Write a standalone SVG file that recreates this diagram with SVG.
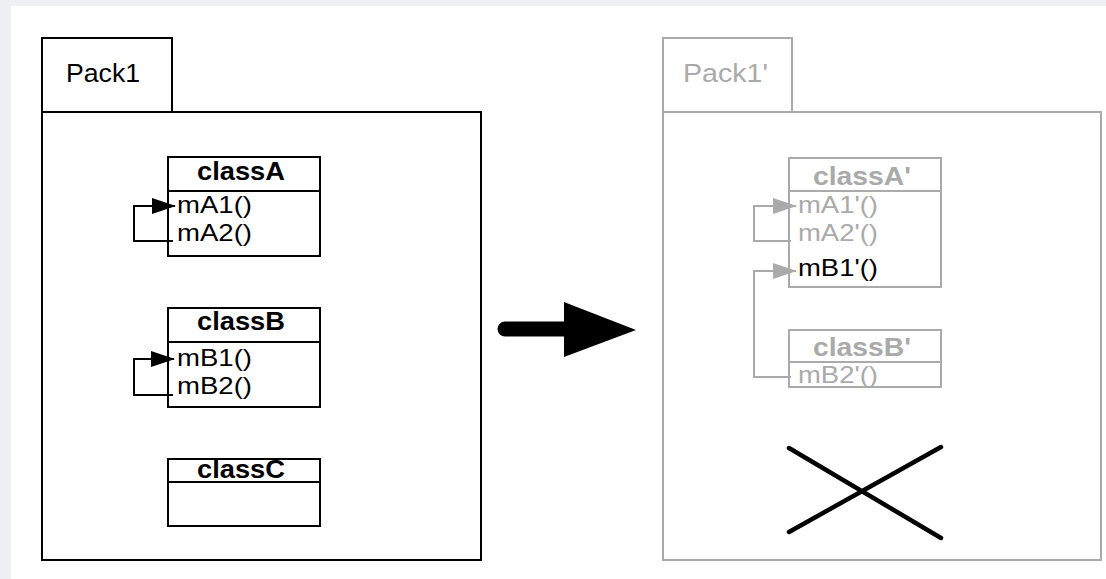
<svg xmlns="http://www.w3.org/2000/svg" width="1106" height="579" viewBox="0 0 1106 579">
  <style>
    .ink { stroke: #000; fill: none; stroke-width: 2; }
    .dim { stroke: #aaaaaa; fill: none; stroke-width: 2; }
    .t { font-family: "Liberation Sans", Arial, sans-serif; fill: #000; }
    .g { fill: #aaaaaa; }
    .title { font-size: 26px; font-weight: bold; text-anchor: middle; }
    .meth { font-size: 24px; }
    .pkg { font-size: 25px; }
  </style>
  <defs>
    <marker id="headBlack" viewBox="0 0 24 16" refX="23" refY="8" markerWidth="24" markerHeight="16" markerUnits="userSpaceOnUse" orient="auto">
      <path d="M0,0 L24,8 L0,16 Z" fill="#000"/>
    </marker>
    <marker id="headGray" viewBox="0 0 24 16" refX="23" refY="8" markerWidth="24" markerHeight="16" markerUnits="userSpaceOnUse" orient="auto">
      <path d="M0,0 L24,8 L0,16 Z" fill="#aaaaaa"/>
    </marker>
  </defs>

  <!-- page backdrop -->
  <rect x="0" y="0" width="1106" height="579" fill="#eef0f3"/>
  <rect x="11" y="6" width="1095" height="573" fill="#ffffff"/>

  <!-- source package -->
  <g id="pack1">
    <rect class="ink" x="42" y="38" width="130" height="74"/>
    <rect class="ink" x="42" y="112" width="439" height="448"/>
    <text class="t pkg" x="66" y="82" textLength="74" lengthAdjust="spacingAndGlyphs">Pack1</text>
  </g>

  <g id="classA">
    <rect class="ink" x="168" y="157" width="152" height="99"/>
    <line class="ink" x1="168" y1="191" x2="320" y2="191"/>
    <text class="t title" x="241" y="180" textLength="88" lengthAdjust="spacingAndGlyphs">classA</text>
    <text class="t meth" x="177" y="213" textLength="75" lengthAdjust="spacingAndGlyphs">mA1()</text>
    <text class="t meth" x="177" y="241" textLength="75" lengthAdjust="spacingAndGlyphs">mA2()</text>
  </g>

  <g id="classB">
    <rect class="ink" x="168" y="308" width="152" height="99"/>
    <line class="ink" x1="168" y1="342" x2="320" y2="342"/>
    <text class="t title" x="241" y="330" textLength="88" lengthAdjust="spacingAndGlyphs">classB</text>
    <text class="t meth" x="177" y="366" textLength="75" lengthAdjust="spacingAndGlyphs">mB1()</text>
    <text class="t meth" x="177" y="394" textLength="75" lengthAdjust="spacingAndGlyphs">mB2()</text>
  </g>

  <g id="classC">
    <rect class="ink" x="168" y="459" width="152" height="67"/>
    <line class="ink" x1="168" y1="482" x2="320" y2="482"/>
    <text class="t title" x="241" y="478" textLength="88" lengthAdjust="spacingAndGlyphs">classC</text>
  </g>

  <!-- target package -->
  <g id="pack1prime">
    <rect class="dim" x="663" y="38" width="129" height="74"/>
    <rect class="dim" x="663" y="112" width="438" height="448"/>
    <text class="t g pkg" x="683" y="82" textLength="85" lengthAdjust="spacingAndGlyphs">Pack1'</text>
  </g>

  <g id="classAprime">
    <rect class="dim" x="789" y="158" width="152" height="129"/>
    <line class="dim" x1="789" y1="191" x2="941" y2="191"/>
    <text class="t g title" x="862" y="185" textLength="98" lengthAdjust="spacingAndGlyphs">classA'</text>
    <text class="t g meth" x="798" y="213" textLength="80" lengthAdjust="spacingAndGlyphs">mA1'()</text>
    <text class="t g meth" x="798" y="241" textLength="80" lengthAdjust="spacingAndGlyphs">mA2'()</text>
    <text class="t meth" x="798" y="276" textLength="80" lengthAdjust="spacingAndGlyphs">mB1'()</text>
  </g>

  <g id="classBprime">
    <rect class="dim" x="789" y="330" width="152" height="57"/>
    <line class="dim" x1="789" y1="362" x2="941" y2="362"/>
    <text class="t g title" x="862" y="356" textLength="98" lengthAdjust="spacingAndGlyphs">classB'</text>
    <text class="t g meth" x="798" y="383" textLength="80" lengthAdjust="spacingAndGlyphs">mB2'()</text>
  </g>

  <!-- removed class marker -->
  <g id="deleted" stroke="#000" stroke-width="4.5" stroke-linecap="round">
    <line x1="789" y1="448" x2="941" y2="538"/>
    <line x1="789" y1="532" x2="941" y2="447"/>
  </g>

  <!-- call connectors and transformation arrow -->
  <g id="connectors">
    <polyline class="ink" points="173,241 134,241 134,206 175,206" marker-end="url(#headBlack)"/>
    <polyline class="ink" points="173,395 134,395 134,359 174,359" marker-end="url(#headBlack)"/>
    <polyline class="dim" points="791,241 754,241 754,206 796,206" marker-end="url(#headGray)"/>
    <polyline class="dim" points="791,377 754,377 754,271 796,271" marker-end="url(#headGray)"/>
    <line x1="505" y1="329" x2="566" y2="329" stroke="#000" stroke-width="15" stroke-linecap="round"/>
    <path d="M564,302 L636,330 L564,357 Z" fill="#000"/>
  </g>
</svg>
